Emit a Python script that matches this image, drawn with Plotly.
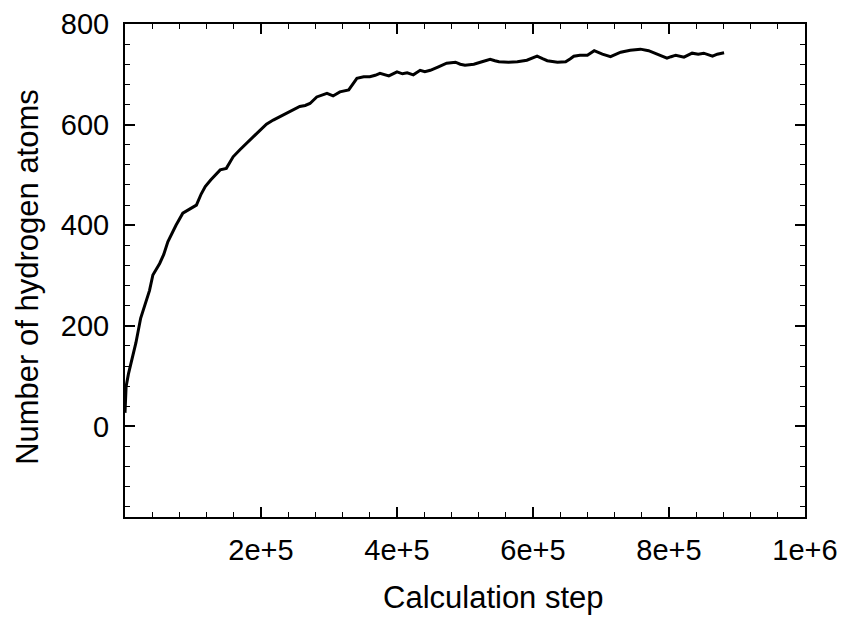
import plotly.graph_objects as go

# Simulation trace: hydrogen atom count versus calculation step
steps = [
    0, 1.6e3, 5e3, 9e3, 1.6e4, 2.3e4, 3.1e4, 3.6e4, 4.1e4, 5.1e4, 5.7e4,
    6.3e4, 7.5e4, 8.5e4, 9.5e4, 1.05e5, 1.12e5, 1.18e5, 1.26e5, 1.33e5,
    1.40e5, 1.49e5, 1.54e5, 1.59e5, 1.69e5, 1.79e5, 1.89e5, 1.99e5, 2.08e5,
    2.18e5, 2.28e5, 2.38e5, 2.47e5, 2.57e5, 2.65e5, 2.72e5, 2.82e5, 2.90e5,
    2.97e5, 3.06e5, 3.16e5, 3.29e5, 3.35e5, 3.41e5, 3.51e5, 3.60e5, 3.68e5,
    3.75e5, 3.88e5, 4.00e5, 4.08e5, 4.15e5, 4.24e5, 4.34e5, 4.41e5, 4.49e5,
    4.61e5, 4.73e5, 4.86e5, 4.93e5, 5.00e5, 5.13e5, 5.25e5, 5.37e5, 5.44e5,
    5.50e5, 5.64e5, 5.77e5, 5.91e5, 6.06e5, 6.14e5, 6.21e5, 6.36e5, 6.48e5,
    6.55e5, 6.60e5, 6.69e5, 6.80e5, 6.90e5, 7.02e5, 7.14e5, 7.22e5, 7.29e5,
    7.43e5, 7.58e5, 7.70e5, 7.83e5, 7.97e5, 8.03e5, 8.10e5, 8.22e5, 8.34e5,
    8.43e5, 8.51e5, 8.64e5, 8.71e5, 8.81e5,
]
hydrogen_atoms = [
    27, 79, 104, 126, 166, 215, 252, 270, 301, 324, 342,
    367, 400, 424, 432, 440, 462, 477, 490, 500,
    510, 513, 524, 536, 550, 563, 576, 589, 601,
    609, 616, 622, 628, 636, 638, 642, 655, 658,
    662, 657, 665, 669, 680, 692, 695, 695, 698,
    702, 697, 705, 701, 703, 699, 708, 705, 708,
    715, 722, 724, 720, 718, 720, 725, 730, 727,
    725, 724, 725, 728, 736, 731, 727, 724, 725,
    731, 736, 738, 738, 747, 740, 735, 740, 744,
    748, 750, 747, 740, 732, 735, 738, 734, 742,
    740, 742, 736, 740, 743,
]

x_tickvals = [2e5, 4e5, 6e5, 8e5, 1e6]
x_ticktext = ["2e+5", "4e+5", "6e+5", "8e+5", "1e+6"]
y_tickvals = [0, 200, 400, 600, 800]
y_ticktext = ["0", "200", "400", "600", "800"]

font_family = "Liberation Sans, Arial, sans-serif"

fig = go.Figure(
    go.Scatter(
        x=steps,
        y=hydrogen_atoms,
        mode="lines",
        line=dict(color="black", width=3),
        showlegend=False,
        hoverinfo="x+y",
    )
)

axis_common = dict(
    showline=True,
    linecolor="black",
    linewidth=2,
    mirror="allticks",
    ticks="inside",
    ticklen=10,
    tickwidth=2,
    tickcolor="black",
    showgrid=False,
    zeroline=False,
    automargin=False,
    tickfont=dict(family=font_family, size=29, color="black"),
)

fig.update_xaxes(
    **axis_common,
    range=[0, 1e6],
    tickmode="array",
    tickvals=x_tickvals,
    ticktext=x_ticktext,
    ticklabelstandoff=6,
    minor=dict(ticks="inside", ticklen=5, tickwidth=1, tickcolor="black",
               tickmode="linear", tick0=0, dtick=4e4),
)
fig.update_yaxes(
    **axis_common,
    range=[-180, 800],
    tickmode="array",
    tickvals=y_tickvals,
    ticktext=y_ticktext,
    ticklabelstandoff=8,
    minor=dict(ticks="inside", ticklen=5, tickwidth=1, tickcolor="black",
               tickmode="linear", tick0=0, dtick=40),
)

title_font = dict(family=font_family, size=31, color="black")
fig.add_annotation(
    text="Calculation step", xref="paper", yref="paper",
    x=0.5415, y=-0.164, xanchor="center", yanchor="middle",
    showarrow=False, font=title_font,
)
fig.add_annotation(
    text="Number of hydrogen atoms", xref="paper", yref="paper",
    x=-0.1435, y=0.488, xanchor="center", yanchor="middle",
    textangle=-90, showarrow=False, font=title_font,
)

fig.update_layout(
    width=841,
    height=620,
    margin=dict(l=124.5, r=36, t=24, b=103),
    paper_bgcolor="white",
    plot_bgcolor="white",
)

fig.write_html("out.html")
